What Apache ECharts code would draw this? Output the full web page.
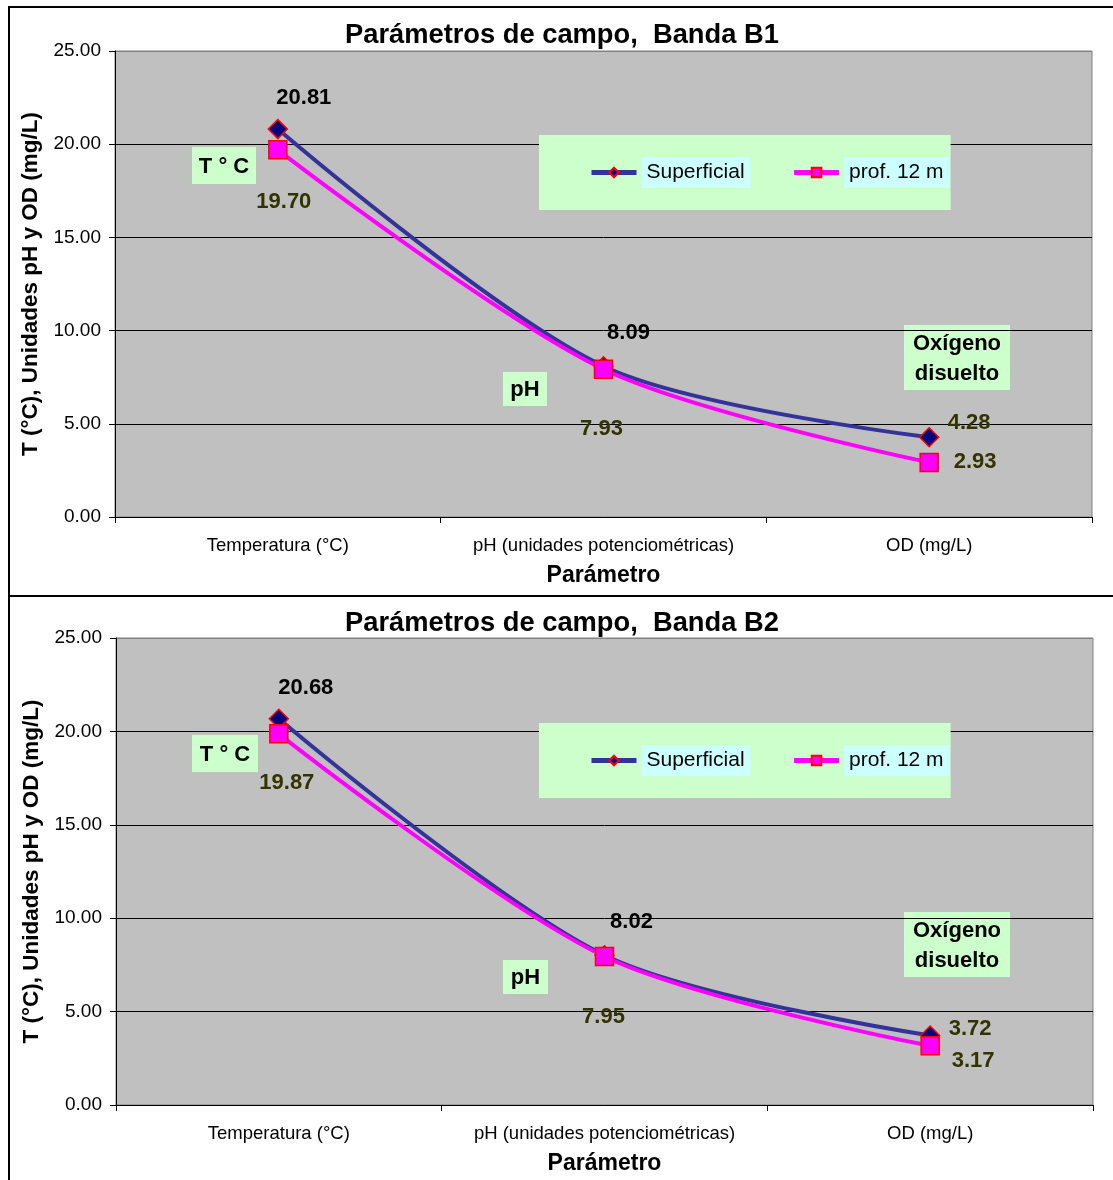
<!DOCTYPE html>
<html>
<head>
<meta charset="utf-8">
<script src="https://cdn.jsdelivr.net/npm/echarts@6/dist/echarts.min.js"></script>
<style>
    body{ margin: 0; background: white; width: 1113px; height: 1180px; overflow: hidden; position: relative; }
    .frame{ position: absolute; left: 8px; width: 1130px; border: 2px solid black; box-sizing: border-box; }
    .chart{ position: absolute; left: 0; width: 1113px; }
</style>
</head>
<body>
<div class="frame" style="top: 6px; height: 591px;"></div>
<div class="frame" style="top: 595px; height: 600px;"></div>
<div id="chartB1" class="chart" style="top: 0; height: 595px;"></div>
<div id="chartB2" class="chart" style="top: 595px; height: 585px;"></div>
<script>
    // datos
    const categories = ['Temperatura (°C)', 'pH (unidades potenciométricas)', 'OD (mg/L)'];
    const seriesNames = ['Superficial', 'prof. 12 m'];
    const yMin = 0, yMax = 25, yStep = 5;
    const b1Superficial = [20.81, 8.09, 4.28];
    const b1Prof12 = [19.70, 7.93, 2.93];
    const b2Superficial = [20.68, 8.02, 3.72];
    const b2Prof12 = [19.87, 7.95, 3.17];

    const font = '"Liberation Sans", Arial, sans-serif';
    const olive = '#333300';

    function note(text, x, y, w, h){
        return {
            type: 'group',
            children: [
                {type: 'rect', shape: {x: x, y: y, width: w, height: h}, style: {fill: '#CCFFCC'}},
                {type: 'text', x: x + w / 2, y: y + h / 2 + 1,
                    style: {text: text, font: 'bold 22px ' + font, fill: '#000', align: 'center', verticalAlign: 'middle', lineHeight: 30}}
            ]
        };
    }

    function makeOption(cfg){
        const mkData = (vals, offs, cols) => vals.map((v, i) => ({
            value: v,
            label: {offset: offs[i], color: cols[i]}
        }));
        return {
            animation: false,
            textStyle: {fontFamily: font},
            title: {
                text: cfg.title,
                left: 340, top: cfg.titleTop,
                textStyle: {fontSize: 27.3, fontWeight: 'bold', color: '#000', fontFamily: font}
            },
            legend: {
                left: 539, top: cfg.legendTop,
                padding: [22, 1, 22, 50],
                backgroundColor: '#CCFFCC',
                itemWidth: 45, itemHeight: 12, itemGap: 41,
                lineStyle: {width: 5},
                textStyle: {fontSize: 21, color: '#000', backgroundColor: '#CCFFFF', padding: [5, 6, 5, 5], fontFamily: font},
                data: seriesNames
            },
            grid: {
                left: cfg.gridLeft, top: cfg.gridTop, width: 977, height: cfg.gridHeight,
                show: true, backgroundColor: '#C0C0C0', borderColor: '#808080', borderWidth: 1
            },
            xAxis: {
                type: 'category',
                data: categories,
                boundaryGap: true,
                axisLine: {lineStyle: {color: '#000', width: 1}},
                axisTick: {show: true, interval: 0, length: 6, lineStyle: {color: '#000'}},
                axisLabel: {interval: 0, fontSize: 18.5, color: '#000', margin: 19, fontFamily: font},
                name: 'Parámetro',
                nameLocation: 'middle',
                nameGap: 47,
                nameTextStyle: {fontSize: 23, fontWeight: 'bold', color: '#000', fontFamily: font}
            },
            yAxis: {
                type: 'value',
                min: yMin, max: yMax, interval: yStep,
                axisLine: {show: true, lineStyle: {color: '#000'}},
                axisTick: {show: true, length: 6, lineStyle: {color: '#000'}},
                axisLabel: {fontSize: 19, color: '#000', margin: 14, fontFamily: font, formatter: v => v.toFixed(2)},
                splitLine: {lineStyle: {color: ['#000', '#000', '#000', '#000', '#000', '#808080'], width: 1}},
                name: 'T (°C), Unidades pH y OD (mg/L)',
                nameLocation: 'middle',
                nameGap: 73,
                nameTextStyle: {fontSize: 22.5, fontWeight: 'bold', color: '#000', fontFamily: font}
            },
            graphic: cfg.notes.map(n => note(n[0], n[1], n[2], n[3], n[4])),
            series: [
                {
                    name: seriesNames[0],
                    type: 'line',
                    smooth: 0.3,
                    symbol: 'diamond',
                    symbolSize: 19,
                    lineStyle: {color: '#333399', width: 4},
                    itemStyle: {color: '#000080', borderColor: '#FF0000', borderWidth: 1.5},
                    label: {show: true, position: 'inside', fontSize: 22, fontWeight: 'bold', fontFamily: font,
                        formatter: p => p.value.toFixed(2)},
                    data: mkData(cfg.sup, cfg.supOffsets, cfg.supColors)
                },
                {
                    name: seriesNames[1],
                    type: 'line',
                    smooth: 0.3,
                    symbol: 'rect',
                    symbolSize: 18,
                    lineStyle: {color: '#FF00FF', width: 4},
                    itemStyle: {color: '#FF00FF', borderColor: '#FF0000', borderWidth: 1.5},
                    label: {show: true, position: 'inside', fontSize: 22, fontWeight: 'bold', fontFamily: font,
                        formatter: p => p.value.toFixed(2)},
                    data: mkData(cfg.prof, cfg.profOffsets, cfg.profColors)
                }
            ]
        };
    }

    const chart1 = echarts.init(document.getElementById('chartB1'));
    chart1.setOption(makeOption({
        title: 'Parámetros de campo,  Banda B1',
        titleTop: 17,
        legendTop: 135,
        gridLeft: 115, gridTop: 51, gridHeight: 466,
        sup: b1Superficial, prof: b1Prof12,
        supOffsets: [[26, -31], [25, -33], [40, -14]],
        supColors: ['#000', '#000', olive],
        profOffsets: [[6, 52], [-2, 60], [46, 0]],
        profColors: [olive, olive, olive],
        notes: [['T ° C', 192, 147, 64, 37], ['pH', 503, 372, 44, 34], ['Oxígeno\ndisuelto', 904, 325, 106, 65]]
    }));

    const chart2 = echarts.init(document.getElementById('chartB2'));
    chart2.setOption(makeOption({
        title: 'Parámetros de campo,  Banda B2',
        titleTop: 10,
        legendTop: 128,
        gridLeft: 116, gridTop: 43, gridHeight: 467,
        sup: b2Superficial, prof: b2Prof12,
        supOffsets: [[27, -31], [27, -33], [40, -7]],
        supColors: ['#000', '#000', olive],
        profOffsets: [[8, 49], [-1, 60], [43, 15]],
        profColors: [olive, olive, olive],
        notes: [['T ° C', 192, 140, 66, 37], ['pH', 503, 365, 45, 34], ['Oxígeno\ndisuelto', 904, 317, 106, 65]]
    }));
</script>
</body>
</html>
